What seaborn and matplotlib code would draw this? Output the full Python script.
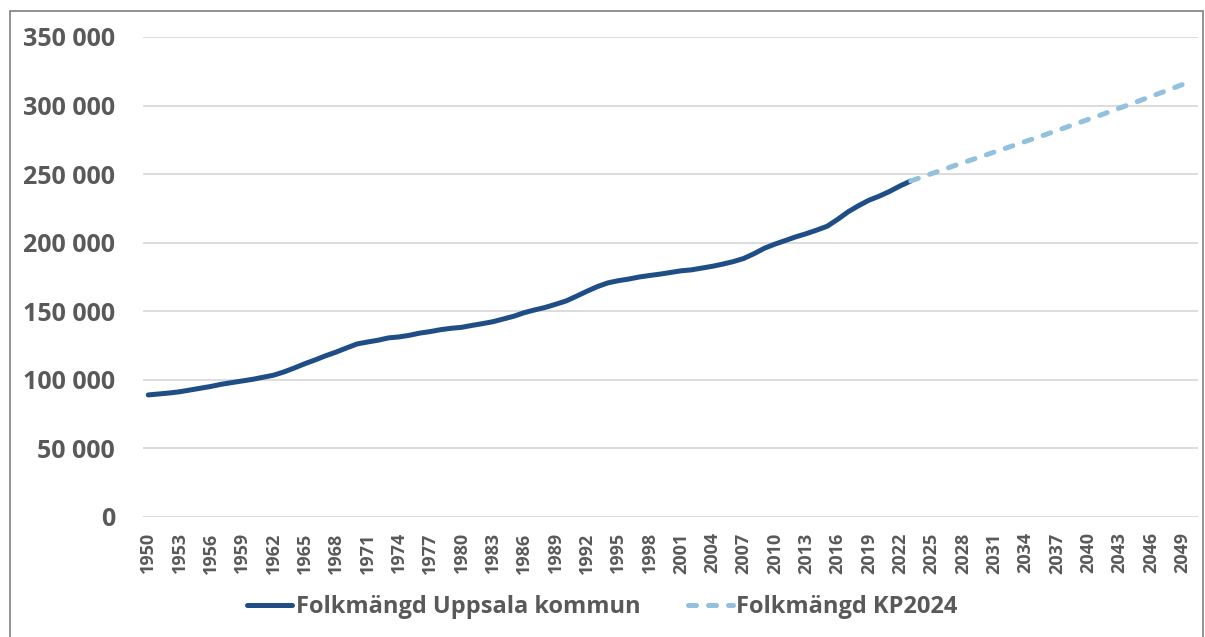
import matplotlib
matplotlib.use("Agg")
import matplotlib.pyplot as plt
import matplotlib.ticker as mticker
from matplotlib.patches import Rectangle
import seaborn as sns
import pandas as pd

hist_years = list(range(1950, 2024))
hist_values = [
    89000, 89700, 90400, 91300, 92600, 93900, 95200, 96800, 98000, 99200,
    100400, 101900, 103400, 105800, 108700, 111800, 114600, 117600, 120300, 123300,
    126200, 127600, 128900, 130600, 131300, 132500, 134100, 135200, 136600, 137600,
    138300, 139700, 141000, 142400, 144400, 146400, 149000, 151000, 152800, 155100,
    157500, 161000, 164600, 168000, 170700, 172300, 173500, 175000, 176100, 177100,
    178300, 179500, 180200, 181500, 182800, 184400, 186200, 188500, 192000, 196000,
    199000, 201600, 204300, 206600, 209200, 212000, 217000, 222500, 227000, 231000,
    234000, 237500, 241500, 245000,
]
proj_years = list(range(2023, 2051))
proj_values = [
    245000, 247700, 250400, 253000, 255700, 258300, 260900, 263500, 266100, 268700,
    271300, 273900, 276500, 279100, 281800, 284500, 287200, 289900, 292600, 295400,
    298200, 301000, 303800, 306600, 309500, 312400, 315300, 318200,
]
hist_label = "Folkmängd Uppsala kommun"
proj_label = "Folkmängd KP2024"
tick_years = list(range(1950, 2050, 3))

sns.set_theme(style="white")
plt.rcParams["font.family"] = ["Open Sans", "DejaVu Sans"]
plt.rcParams["font.weight"] = "bold"

df_hist = pd.DataFrame({"year": hist_years, "value": hist_values})
df_proj = pd.DataFrame({"year": proj_years, "value": proj_values})

fig = plt.figure(figsize=(12.05, 6.37), dpi=100)
ax = fig.add_axes([143 / 1205, 1 - 517 / 637, (1198 - 143) / 1205, (517 - 37) / 637])

text_color = "#595959"

sns.lineplot(data=df_hist, x="year", y="value", ax=ax, color="#1F4E87",
             linewidth=3.6, label=hist_label, solid_capstyle="round", zorder=3)
sns.lineplot(data=df_proj, x="year", y="value", ax=ax, color="#92C0DF",
             linewidth=3.6, label=proj_label, zorder=3)
ax.lines[1].set_dashes((1.6, 2.4))
ax.lines[1].set_dash_capstyle("round")

ax.set_xlim(1949.5, 2050.5)
ax.set_ylim(0, 350000)
ax.set_yticks(range(0, 350001, 50000))
ax.yaxis.set_major_formatter(mticker.FuncFormatter(
    lambda v, p: f"{int(v):,}".replace(",", " ")))
ax.set_xticks(tick_years)
ax.set_xticklabels([str(y) for y in tick_years], rotation=90)
ax.set_xlabel("")
ax.set_ylabel("")

ax.grid(axis="y", color="#D9D9D9", linewidth=1.3)
ax.grid(axis="x", visible=False)
ax.set_axisbelow(True)
for s in ax.spines.values():
    s.set_visible(False)

ax.tick_params(axis="y", length=0, pad=20, labelsize=18, labelcolor=text_color)
ax.tick_params(axis="x", length=0, pad=11, labelsize=13, labelcolor=text_color)
for lab in ax.get_yticklabels() + ax.get_xticklabels():
    lab.set_fontweight("bold")

leg = ax.legend(loc="center", bbox_to_anchor=(0.5, 1 - 607 / 637),
                bbox_transform=fig.transFigure, ncol=2, frameon=False,
                fontsize=17, handlelength=1.9, handletextpad=0.15,
                columnspacing=2.0)
for t in leg.get_texts():
    t.set_color(text_color)
    t.set_fontweight("bold")
for h in leg.get_lines():
    h.set_linewidth(3.6)
leg.get_lines()[1].set_dashes((1.6, 2.4))
leg.get_lines()[1].set_dash_capstyle("round")

fig.patches.append(Rectangle((10 / 1205, -0.05), (1203 - 10) / 1205, 1 - 11 / 637 + 0.05,
                             transform=fig.transFigure, fill=False,
                             edgecolor="#7F7F7F", linewidth=1.2))

fig.savefig("out.png", dpi=100)
